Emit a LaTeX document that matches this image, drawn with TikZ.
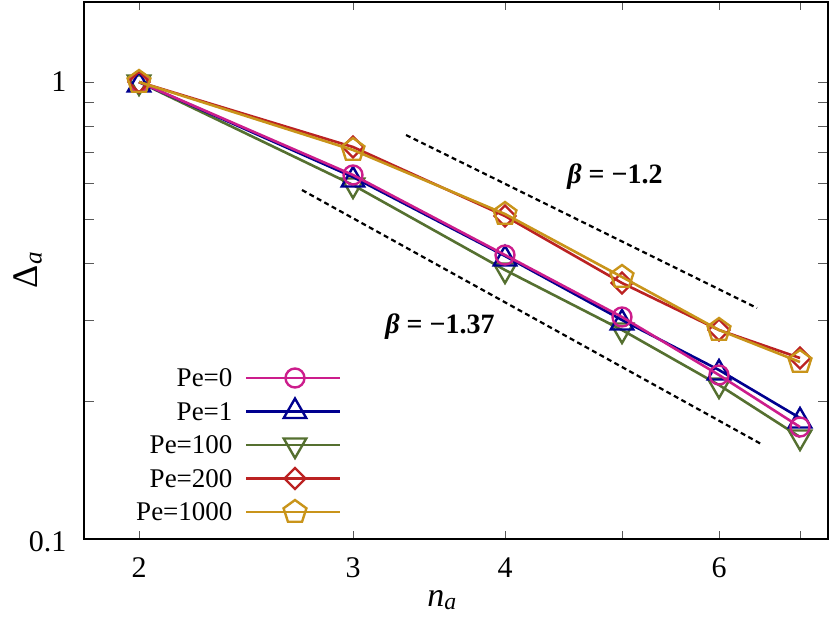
\documentclass[tikz,border=0pt]{standalone}
\usepackage{fontspec}
\setmainfont{Liberation Serif}
\usetikzlibrary{shapes.geometric}
\definecolor{cmag}{HTML}{CC1D8C}
\definecolor{cblu}{HTML}{00008F}
\definecolor{cgrn}{HTML}{557030}
\definecolor{cred}{HTML}{BB2222}
\definecolor{cgld}{HTML}{C9941A}
\tikzset{
  ser/.style={line width=2.6pt,line join=round},
  mk/.style={draw,line width=2.4pt,fill=none,inner sep=0pt},
  mcirc/.style={mk,circle,minimum size=19pt},
  mtri/.style={mk,regular polygon,regular polygon sides=3,minimum size=26pt},
  mitri/.style={mk,regular polygon,regular polygon sides=3,minimum size=26pt,shape border rotate=180},
  mdia/.style={mk,diamond,minimum size=22pt},
  mpent/.style={mk,regular polygon,regular polygon sides=5,minimum size=24pt},
  lab/.style={font=\fontsize{30}{30}\selectfont},
  tk/.style={line width=1pt,gray!70!black},
  blab/.style={font=\fontsize{28}{28}\selectfont\bfseries},
}
\begin{document}
\begin{tikzpicture}[x=1pt,y=-1pt]
\useasboundingbox (0,0) rectangle (830,625);
% ticks
\foreach \x in {139,353,505,622,719,800}{
  \draw[tk] (\x,539) -- (\x,531); \draw[tk] (\x,2) -- (\x,10);}
\foreach \v in {0.2,0.3,0.4,0.5,0.6,0.7,0.8,0.9,1}{
  \pgfmathsetmacro\py{82-457*log10(\v)}
  \draw[tk] (84,\py) -- (94,\py); \draw[tk] (828,\py) -- (818,\py);}
\draw[line width=1.2pt] (84,2) rectangle (828,539);
% tick labels
\node[lab,anchor=east] (y1) at (70,82) {1};
\node[lab,anchor=east] (y01) at (70,542) {0.1};
\node[lab] (x2) at (139,568) {2};
\node[lab] (x3) at (353,568) {3};
\node[lab] (x4) at (505,568) {4};
\node[lab] (x6) at (719,568) {6};
\node[font=\fontsize{36}{36}\selectfont,rotate=90] (ylab) at (28,270) {Δ\textsubscript{\textit{a}}};
\node[font=\fontsize{34}{34}\selectfont] (xlab) at (442,600) {\textit{n}\textsubscript{\textit{a}}};
% guide lines
\draw[line width=2.2pt,dash pattern=on 5pt off 3.5pt] (406,135) -- (757,308);
\draw[line width=2.2pt,dash pattern=on 5pt off 3.5pt] (302,190) -- (763,445);
\node[blab] (b1) at (615,177) {\textit{β} = −1.2};
\node[blab] (b2) at (440,327) {\textit{β} = −1.37};
% series
\draw[ser,cgrn] (139,82)--(353,185)--(505,270)--(622,330)--(719,385)--(800,437);
\foreach \x/\y in {139/82,353/185,505/270,622/330,719/385,800/437}\node[mitri,cgrn] at (\x,\y) {};
\draw[ser,cblu] (139,82)--(353,177)--(505,256)--(622,320)--(719,370)--(800,418);
\foreach \x/\y in {139/82,353/177,505/256,622/320,719/370,800/418}\node[mtri,cblu] at (\x,\y+3) {};
\draw[ser,cmag] (139,82)--(353,175)--(505,255)--(622,317)--(719,375)--(800,427);
\foreach \x/\y in {139/82,353/175,505/255,622/317,719/375,800/427}\node[mcirc,cmag] at (\x,\y) {};
\draw[ser,cred] (139,82)--(353,147)--(505,216)--(622,283)--(719,330)--(800,358);
\foreach \x/\y in {139/82,353/147,505/216,622/283,719/330,800/358}\node[mdia,cred] at (\x,\y) {};
\draw[ser,cgld] (139,82)--(353,150)--(505,214)--(622,277)--(719,330)--(800,362);
\foreach \x/\y in {139/82,353/150,505/214,622/277,719/330,800/362}\node[mpent,cgld] at (\x,\y) {};
% legend
\foreach \t/\c/\m [count=\i] in {Pe=0/cmag/mcirc,Pe=1/cblu/mtri,Pe=100/cgrn/mitri,Pe=200/cred/mdia,Pe=1000/cgld/mpent}{
  \pgfmathsetmacro\ly{378+33.5*(\i-1)}
  \node[anchor=east,font=\fontsize{27}{27}\selectfont] (leg\i) at (236,\ly) {\t};
  \draw[ser,\c] (246,\ly) -- (340,\ly);
  \node[\m,\c] at (295,\ly) {};}
\end{tikzpicture}
\end{document}
